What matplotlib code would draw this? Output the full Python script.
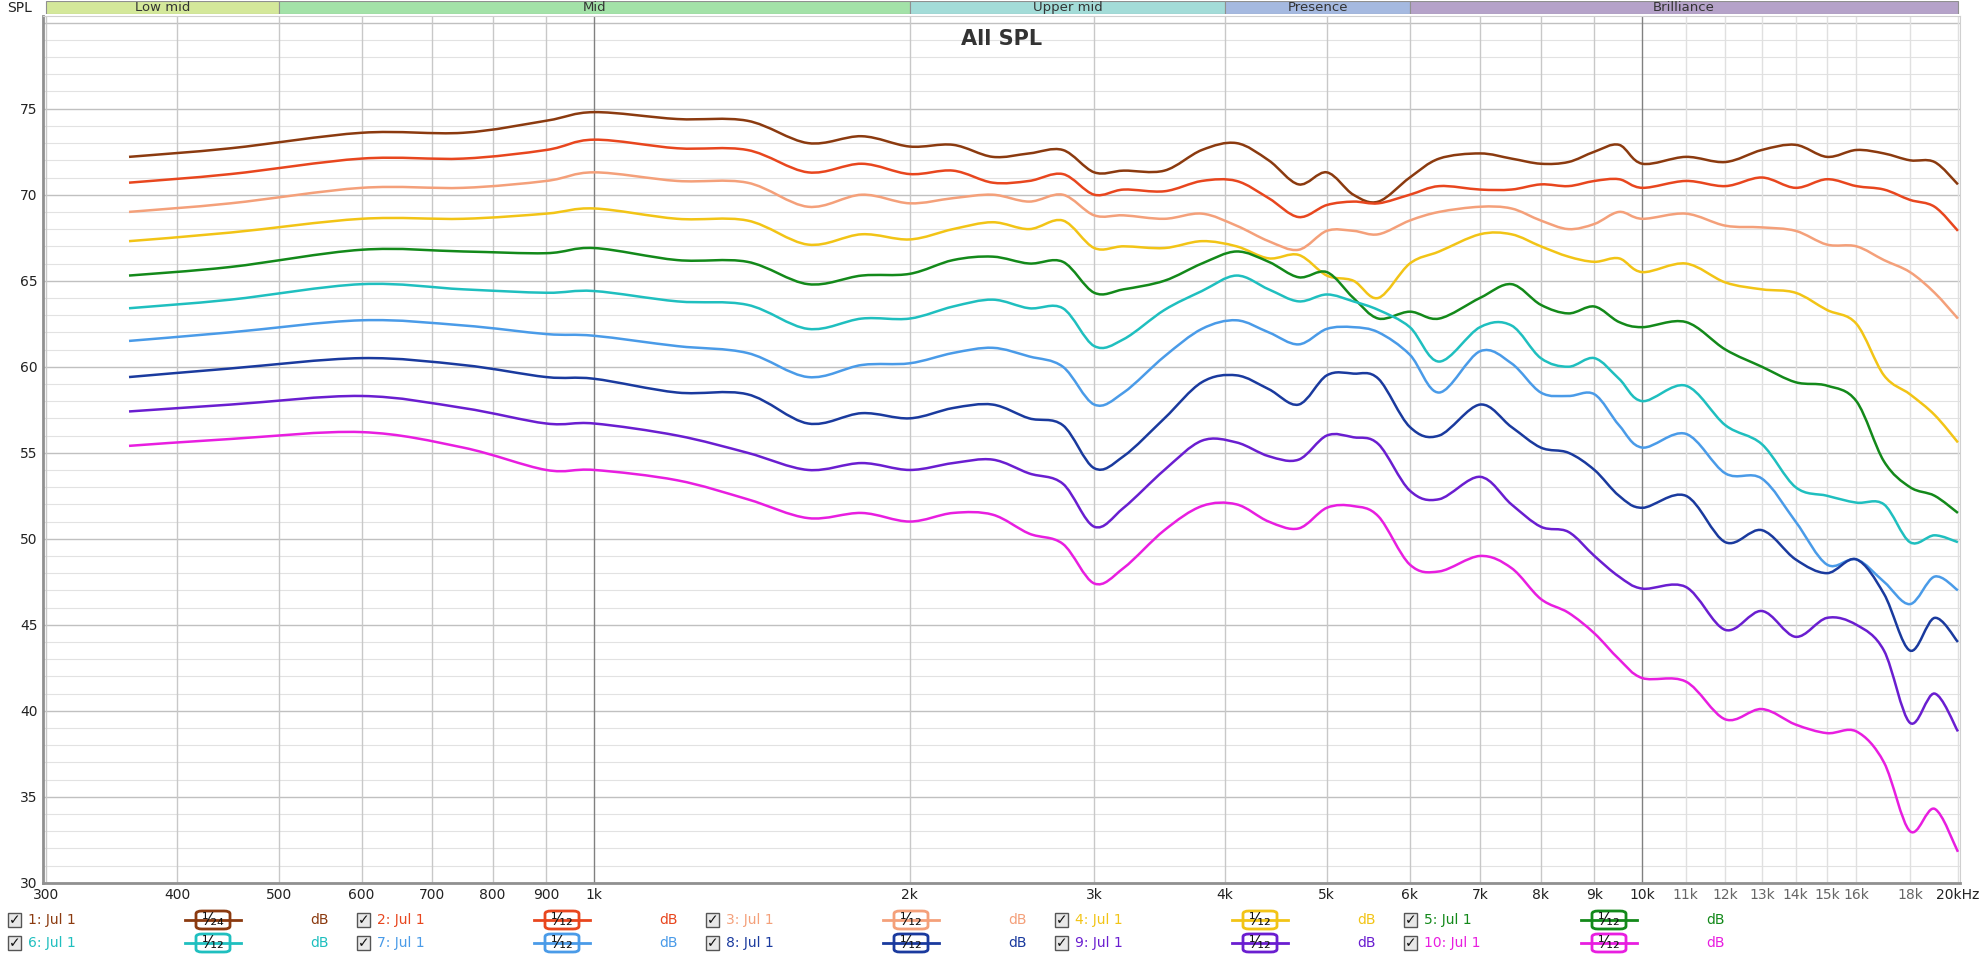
import matplotlib
matplotlib.use("Agg")
import numpy as np
import matplotlib.pyplot as plt
from matplotlib.patches import FancyBboxPatch, Rectangle, PathPatch
from matplotlib.path import Path
from matplotlib.ticker import FixedLocator, NullFormatter, NullLocator

freqs = [360,450,600,750,900,1000,1200,1400,1600,1800,2000,2200,2400,2600,2800,3000,3200,3500,3800,4100,4400,4700,5000,5300,5600,6000,6400,7000,7500,8000,8500,9000,9500,10000,11000,12000,13000,14000,15000,16000,17000,18000,19000,20000]

s1 = [72.2,72.7,73.6,73.6,74.3,74.8,74.4,74.3,73.0,73.4,72.8,72.9,72.2,72.4,72.6,71.3,71.4,71.4,72.6,73.0,72.0,70.6,71.3,70.0,69.6,71.0,72.1,72.4,72.1,71.8,71.9,72.5,72.9,71.8,72.2,71.9,72.6,72.9,72.2,72.6,72.4,72.0,71.9,70.6]
s2 = [70.7,71.2,72.1,72.1,72.6,73.2,72.7,72.6,71.3,71.8,71.2,71.4,70.7,70.8,71.2,70.0,70.3,70.2,70.8,70.8,69.8,68.7,69.4,69.6,69.5,70.0,70.5,70.3,70.3,70.6,70.5,70.8,70.9,70.4,70.8,70.5,71.0,70.4,70.9,70.5,70.3,69.7,69.3,67.9]
s3 = [69.0,69.5,70.4,70.4,70.8,71.3,70.8,70.7,69.3,70.0,69.5,69.8,70.0,69.6,70.0,68.8,68.8,68.6,68.9,68.2,67.3,66.8,67.9,67.9,67.7,68.5,69.0,69.3,69.2,68.5,68.0,68.3,69.0,68.6,68.9,68.2,68.1,67.9,67.1,67.0,66.2,65.5,64.3,62.8]
s4 = [67.3,67.8,68.6,68.6,68.9,69.2,68.6,68.5,67.1,67.7,67.4,68.0,68.4,68.0,68.5,66.9,67.0,66.9,67.3,67.0,66.3,66.5,65.3,65.0,64.0,66.0,66.7,67.7,67.7,67.0,66.4,66.1,66.3,65.5,66.0,64.9,64.5,64.3,63.3,62.5,59.5,58.4,57.2,55.6]
s5 = [65.3,65.8,66.8,66.7,66.6,66.9,66.2,66.1,64.8,65.3,65.4,66.2,66.4,66.0,66.1,64.3,64.5,65.0,66.0,66.7,66.1,65.2,65.5,64.0,62.8,63.2,62.8,64.0,64.8,63.6,63.1,63.5,62.6,62.3,62.6,61.0,60.0,59.1,58.9,58.0,54.5,53.0,52.5,51.5]
s6 = [63.4,63.9,64.8,64.5,64.3,64.4,63.8,63.6,62.2,62.8,62.8,63.5,63.9,63.4,63.4,61.2,61.6,63.3,64.4,65.3,64.5,63.8,64.2,63.8,63.3,62.3,60.3,62.3,62.4,60.5,60.0,60.5,59.3,58.0,58.9,56.6,55.5,53.0,52.5,52.1,52.0,49.8,50.2,49.8]
s7 = [61.5,62.0,62.7,62.4,61.9,61.8,61.2,60.8,59.4,60.1,60.2,60.8,61.1,60.6,60.0,57.8,58.5,60.6,62.2,62.7,62.0,61.3,62.2,62.3,62.0,60.7,58.5,60.9,60.2,58.5,58.3,58.4,56.6,55.3,56.1,53.8,53.5,51.0,48.5,48.8,47.5,46.2,47.8,47.0]
s8 = [59.4,59.9,60.5,60.1,59.4,59.3,58.5,58.4,56.7,57.3,57.0,57.6,57.8,57.0,56.6,54.1,54.8,57.0,59.1,59.5,58.7,57.8,59.5,59.6,59.3,56.5,56.0,57.8,56.5,55.3,55.0,54.0,52.5,51.8,52.5,49.8,50.5,48.8,48.0,48.8,46.8,43.5,45.4,44.0]
s9 = [57.4,57.8,58.3,57.6,56.7,56.7,56.0,55.0,54.0,54.4,54.0,54.4,54.6,53.8,53.2,50.7,51.8,54.0,55.7,55.6,54.8,54.6,56.0,55.9,55.5,52.8,52.3,53.6,52.0,50.7,50.4,49.0,47.8,47.1,47.2,44.7,45.8,44.3,45.4,45.0,43.5,39.3,41.0,38.8]
s10 = [55.4,55.8,56.2,55.3,54.0,54.0,53.4,52.3,51.2,51.5,51.0,51.5,51.4,50.3,49.7,47.4,48.3,50.5,51.9,52.0,51.0,50.6,51.8,51.9,51.3,48.5,48.1,49.0,48.3,46.5,45.7,44.5,43.0,41.9,41.7,39.5,40.1,39.2,38.7,38.8,37.0,33.0,34.3,31.8]

series = [s1, s2, s3, s4, s5, s6, s7, s8, s9, s10]
names = ["1: Jul 1","2: Jul 1","3: Jul 1","4: Jul 1","5: Jul 1","6: Jul 1","7: Jul 1","8: Jul 1","9: Jul 1","10: Jul 1"]
smooth = ["24","12","12","12","12","12","12","12","12","12"]
colors = ["#8B3A0F","#E8461E","#F4A07A","#F2C416","#13891A","#1FBFBF","#4A9BE8","#1A3A9E","#6A1ED0","#E81EE0"]

bands = [("Low mid",300,500,"#D4E89A"),("Mid",500,2000,"#A3E2A8"),("Upper mid",2000,4000,"#A3DCD8"),
         ("Presence",4000,6000,"#A5B9E0"),("Brilliance",6000,20000,"#B5A2C9")]

xt = [300,400,500,600,700,800,900,1000,2000,3000,4000,5000,6000,7000,8000,9000,10000,11000,12000,13000,14000,15000,16000,18000,20000]
xtl = ["300","400","500","600","700","800","900","1k","2k","3k","4k","5k","6k","7k","8k","9k","10k","11k","12k","13k","14k","15k","16k","18k","20kHz"]
XMIN, XMAX = 298, 20100

sub = str.maketrans("0123456789", "₀₁₂₃₄₅₆₇₈₉")


def smooth_path(fx, fy):
    # Catmull-Rom segments as cubic Bezier curves in log-frequency space
    lx = np.log10(np.asarray(fx, float)); y = np.asarray(fy, float)
    n = len(lx)
    verts = [(fx[0], y[0])]; codes = [Path.MOVETO]
    for i in range(n - 1):
        i0 = max(i - 1, 0); i3 = min(i + 2, n - 1)
        c1x = lx[i] + (lx[i + 1] - lx[i0]) / 6; c1y = y[i] + (y[i + 1] - y[i0]) / 6
        c2x = lx[i + 1] - (lx[i3] - lx[i]) / 6; c2y = y[i + 1] - (y[i3] - y[i]) / 6
        verts += [(10 ** c1x, c1y), (10 ** c2x, c2y), (fx[i + 1], y[i + 1])]
        codes += [Path.CURVE4] * 3
    return Path(verts, codes)


fig = plt.figure(figsize=(19.8, 9.58), dpi=100)
fig.patch.set_facecolor("white")
ax = fig.add_axes([0.0217, 0.0785, 0.9683, 0.905])
ax.set_xscale("log")
ax.set_xlim(XMIN, XMAX)
ax.set_ylim(30, 80.4)
ax.xaxis.set_major_locator(FixedLocator(xt))
ax.xaxis.set_minor_locator(NullLocator())
ax.set_xticklabels(xtl, fontsize=10, color="#222222")
ax.set_yticks(range(30, 80, 5))
ax.set_yticks(range(30, 81), minor=True)
ax.yaxis.set_minor_formatter(NullFormatter())
ax.tick_params(axis="both", which="both", length=0, labelsize=10, colors="#222222", pad=4)
for t in ax.get_xticklabels():
    if t.get_text() in ("11k","12k","13k","14k","15k","16k","18k"):
        t.set_color("#666666")
for y in range(30, 81):
    ax.axhline(y, color="#C0C0C0" if y % 5 == 0 else "#E2E2E2", lw=1 if y % 5 == 0 else 0.8, zorder=0)
for f in xt:
    c = "#808080" if f in (1000, 10000) else ("#E0E0E0" if f > 10000 else "#C8C8C8")
    ax.axvline(f, color=c, lw=1, zorder=0)
for sp in ["top","right"]:
    ax.spines[sp].set_color("#D0D0D0")
for sp in ["left","bottom"]:
    ax.spines[sp].set_color("#909090"); ax.spines[sp].set_linewidth(2)

for s, c in zip(series, colors):
    ax.add_patch(PathPatch(smooth_path(freqs, s), facecolor="none", edgecolor=c, lw=1.8, zorder=3))

ax.text(0.5, 0.985, "All SPL", transform=ax.transAxes, ha="center", va="top", fontsize=15, fontweight="bold", color="#333333")

bx = fig.add_axes([0.0217, 0.985, 0.9683, 0.014])
bx.set_xscale("log"); bx.set_xlim(XMIN, XMAX); bx.set_ylim(0, 1); bx.axis("off")
for name, a, b, c in bands:
    bx.add_patch(Rectangle((a, 0), b - a, 1, facecolor=c, edgecolor="#909090", lw=0.8))
    bx.text((a * b) ** 0.5, 0.5, name, ha="center", va="center", fontsize=9.5, color="#333333")
fig.text(0.016, 0.992, "SPL", ha="right", va="center", fontsize=10, color="#222222")

W, H = 1980, 958
for i, (n, c, sm) in enumerate(zip(names, colors, smooth)):
    row, col = divmod(i, 5)
    x0 = 8 + col * 349
    yc = H - (920 + row * 23)
    fig.add_artist(Rectangle((x0 / W, (yc - 7) / H), 13 / W, 14 / H, transform=fig.transFigure,
                             facecolor="#E8E8E8", edgecolor="#555555", lw=1))
    fig.text((x0 + 6.5) / W, yc / H, "✓", ha="center", va="center", fontsize=10, color="#111111", fontweight="bold")
    fig.text((x0 + 20) / W, yc / H, n, ha="left", va="center", fontsize=10, color=c)
    bxc = x0 + 205
    fig.add_artist(plt.Line2D([(bxc - 28) / W, (bxc + 28) / W], [yc / H, yc / H], color=c, lw=2))
    fig.add_artist(FancyBboxPatch(((bxc - 17) / W, (yc - 9) / H), 34 / W, 18 / H, transform=fig.transFigure,
                                  boxstyle="round,pad=0,rounding_size=0.003", facecolor="white", edgecolor=c, lw=2))
    fig.text(bxc / W, yc / H, "¹⁄" + sm.translate(sub), ha="center", va="center", fontsize=12, color="#111111")
    fig.text((x0 + 302) / W, yc / H, "dB", ha="left", va="center", fontsize=10, color=c)

fig.savefig("out.png", dpi=100, facecolor="white")
